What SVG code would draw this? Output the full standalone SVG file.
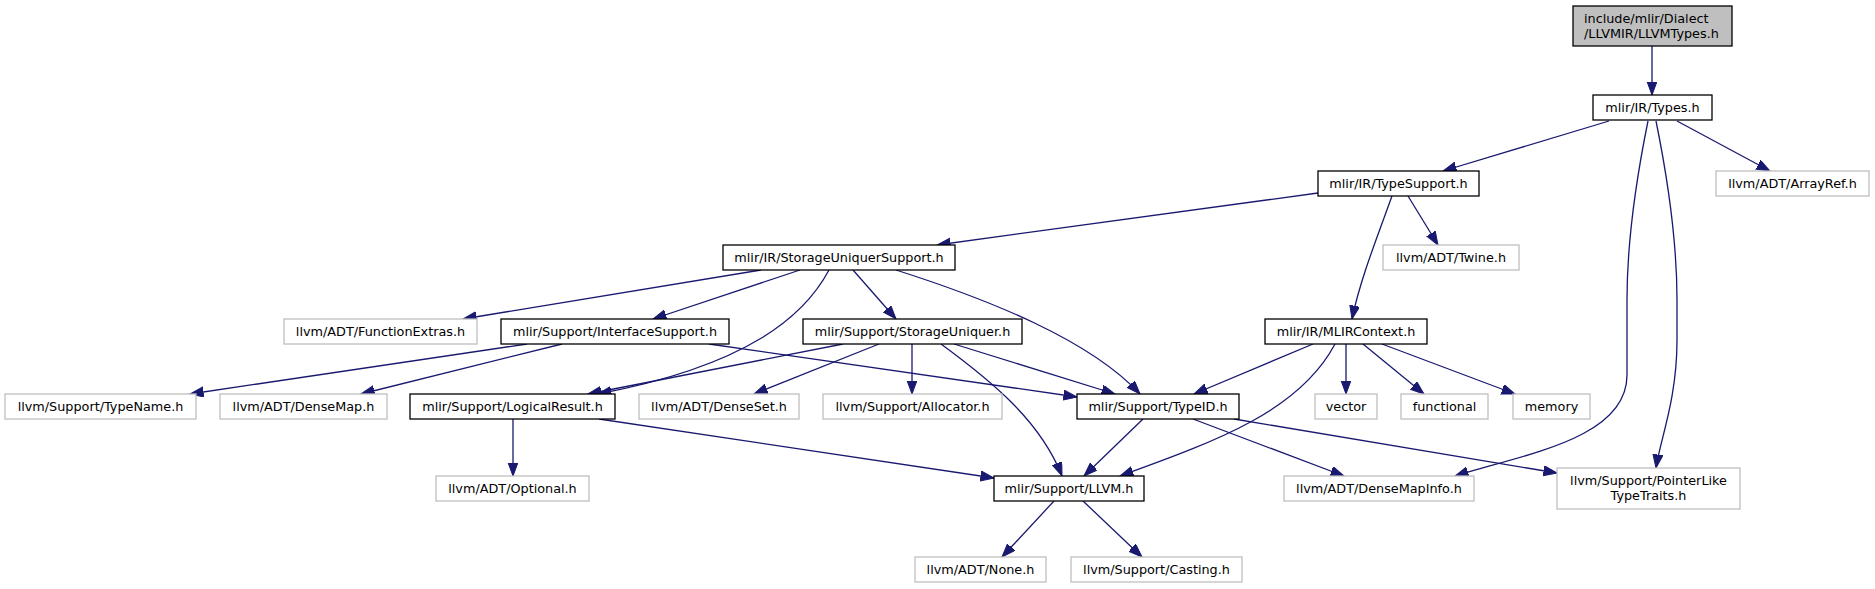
<svg xmlns="http://www.w3.org/2000/svg" width="1875" height="589" viewBox="0 0 1875 589">
<style>
.n rect{fill:#fff;stroke:#000;stroke-width:1.3}
.x rect{fill:#fff;stroke:#bfbfbf;stroke-width:1.3}
.r rect{fill:#bfbfbf;stroke:#000;stroke-width:1.3}
text{font-family:"DejaVu Sans","Liberation Sans",sans-serif;font-size:12.8px;fill:#000;text-anchor:middle}
.l{text-anchor:start}
#edges path{fill:none;stroke:#191970;stroke-width:1.3;marker-end:url(#a)}
</style>
<defs>
<marker id="a" markerUnits="userSpaceOnUse" markerWidth="15" markerHeight="11" refX="13.5" refY="5" orient="auto" viewBox="0 0 15 11">
<path d="M0,0 L13.5,5 L0,10 z" fill="#191970" stroke="#191970" stroke-width="1"/>
</marker>
</defs>
<rect width="1875" height="589" fill="#fff"/>
<g id="edges">
<path d="M1652,46 L1652,95"/>
<path d="M1609,121 L1443,171"/>
<path d="M1677,121 L1770,171"/>
<path d="M1648,121 C1636,180 1627,240 1627,300 L1627,375 C1627,440 1520,455 1455,476"/>
<path d="M1656,121 C1668,180 1677,240 1677,300 L1677,340 C1677,400 1660,440 1656,468"/>
<path d="M1318,193 L937,245"/>
<path d="M1408,196 L1438,245"/>
<path d="M1392,196 C1378,235 1360,280 1352,319"/>
<path d="M761,270 L463,319"/>
<path d="M800,270 L653,319"/>
<path d="M829,270 C805,315 750,365 598,394"/>
<path d="M853,270 L896,319"/>
<path d="M896,270 C990,300 1090,340 1140,394"/>
<path d="M527,344 L190,394"/>
<path d="M562,344 L361,394"/>
<path d="M709,344 L1077,397"/>
<path d="M843,344 L588,394"/>
<path d="M879,344 L754,394"/>
<path d="M912,344 L912,394"/>
<path d="M941,344 C990,380 1040,420 1062,476"/>
<path d="M954,344 L1115,394"/>
<path d="M1313,344 L1194,394"/>
<path d="M1335,344 C1300,410 1220,440 1120,476"/>
<path d="M1346,344 L1346,394"/>
<path d="M1363,344 L1424,394"/>
<path d="M1382,344 L1515,394"/>
<path d="M513,419 L513,476"/>
<path d="M599,419 L994,478"/>
<path d="M1143,419 L1084,476"/>
<path d="M1193,419 L1344,476"/>
<path d="M1234,419 L1557,473"/>
<path d="M1054,501 L1002,557"/>
<path d="M1083,501 L1142,557"/>
</g>
<g id="n_root" class="r"><rect x="1573" y="6" width="159" height="40"/><text class="l" x="1584" y="22.5">include/mlir/Dialect</text><text class="l" x="1584" y="37.5">/LLVMIR/LLVMTypes.h</text></g>
<g id="n_types" class="n"><rect x="1593" y="95" width="119" height="25"/><text x="1652.5" y="112">mlir/IR/Types.h</text></g>
<g id="n_typesupport" class="n"><rect x="1318" y="171" width="161" height="25"/><text x="1398.5" y="188">mlir/IR/TypeSupport.h</text></g>
<g id="n_arrayref" class="x"><rect x="1716" y="171" width="153" height="25"/><text x="1792.5" y="188">llvm/ADT/ArrayRef.h</text></g>
<g id="n_sus" class="n"><rect x="723" y="245" width="232" height="25"/><text x="839" y="262">mlir/IR/StorageUniquerSupport.h</text></g>
<g id="n_twine" class="x"><rect x="1383" y="245" width="136" height="25"/><text x="1451" y="262">llvm/ADT/Twine.h</text></g>
<g id="n_functionextras" class="x"><rect x="284" y="319" width="193" height="25"/><text x="380.5" y="336">llvm/ADT/FunctionExtras.h</text></g>
<g id="n_interfacesupport" class="n"><rect x="501" y="319" width="228" height="25"/><text x="615" y="336">mlir/Support/InterfaceSupport.h</text></g>
<g id="n_storageuniquer" class="n"><rect x="803" y="319" width="219" height="25"/><text x="912.5" y="336">mlir/Support/StorageUniquer.h</text></g>
<g id="n_mlircontext" class="n"><rect x="1265" y="319" width="162" height="25"/><text x="1346" y="336">mlir/IR/MLIRContext.h</text></g>
<g id="n_typename" class="x"><rect x="5" y="394" width="191" height="25"/><text x="100.5" y="411">llvm/Support/TypeName.h</text></g>
<g id="n_densemap" class="x"><rect x="220" y="394" width="167" height="25"/><text x="303.5" y="411">llvm/ADT/DenseMap.h</text></g>
<g id="n_logicalresult" class="n"><rect x="410" y="394" width="205" height="25"/><text x="512.5" y="411">mlir/Support/LogicalResult.h</text></g>
<g id="n_denseset" class="x"><rect x="639" y="394" width="160" height="25"/><text x="719" y="411">llvm/ADT/DenseSet.h</text></g>
<g id="n_allocator" class="x"><rect x="823" y="394" width="179" height="25"/><text x="912.5" y="411">llvm/Support/Allocator.h</text></g>
<g id="n_typeid" class="n"><rect x="1077" y="394" width="162" height="25"/><text x="1158" y="411">mlir/Support/TypeID.h</text></g>
<g id="n_vector" class="x"><rect x="1315" y="394" width="62" height="25"/><text x="1346" y="411">vector</text></g>
<g id="n_functional" class="x"><rect x="1401" y="394" width="87" height="25"/><text x="1444.5" y="411">functional</text></g>
<g id="n_memory" class="x"><rect x="1513" y="394" width="77" height="25"/><text x="1551.5" y="411">memory</text></g>
<g id="n_optional" class="x"><rect x="436" y="476" width="153" height="25"/><text x="512.5" y="493">llvm/ADT/Optional.h</text></g>
<g id="n_llvm" class="n"><rect x="994" y="476" width="150" height="25"/><text x="1069" y="493">mlir/Support/LLVM.h</text></g>
<g id="n_densemapinfo" class="x"><rect x="1284" y="476" width="190" height="25"/><text x="1379" y="493">llvm/ADT/DenseMapInfo.h</text></g>
<g id="n_pointerlike" class="x"><rect x="1557" y="468" width="183" height="41"/><text x="1648.5" y="484.5">llvm/Support/PointerLike</text><text x="1648.5" y="499.5">TypeTraits.h</text></g>
<g id="n_none" class="x"><rect x="915" y="557" width="131" height="25"/><text x="980.5" y="574">llvm/ADT/None.h</text></g>
<g id="n_casting" class="x"><rect x="1071" y="557" width="171" height="25"/><text x="1156.5" y="574">llvm/Support/Casting.h</text></g>
</svg>
